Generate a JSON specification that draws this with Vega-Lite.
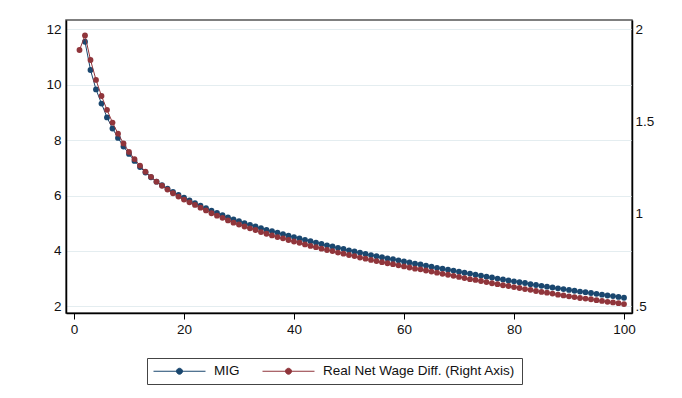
{
  "$schema": "https://vega.github.io/schema/vega-lite/v6.json",
  "width": 566,
  "height": 293,
  "autosize": {"type": "none"},
  "padding": {"left": 66, "top": 20, "right": 50, "bottom": 85},
  "background": "white",
  "config": {
    "font": "Liberation Sans",
    "view": {"stroke": "#555555", "strokeWidth": 1.5},
    "axis": {
      "labelFont": "Liberation Sans",
      "labelFontSize": 13.5,
      "labelColor": "#111111",
      "title": null,
      "domainColor": "#000000",
      "domainWidth": 1.5,
      "tickColor": "#000000",
      "gridColor": "#e4edf0",
      "gridWidth": 1
    }
  },
  "datasets": {
    "mig": [
      {"x": 2, "mig": 11.55}, {"x": 3, "mig": 10.53}, {"x": 4, "mig": 9.83}, {"x": 5, "mig": 9.32}, {"x": 6, "mig": 8.82},
      {"x": 7, "mig": 8.42}, {"x": 8, "mig": 8.08}, {"x": 9, "mig": 7.77}, {"x": 10, "mig": 7.50}, {"x": 11, "mig": 7.25},
      {"x": 12, "mig": 7.03}, {"x": 13, "mig": 6.83}, {"x": 14, "mig": 6.66}, {"x": 15, "mig": 6.50}, {"x": 16, "mig": 6.37},
      {"x": 17, "mig": 6.25}, {"x": 18, "mig": 6.13}, {"x": 19, "mig": 6.02}, {"x": 20, "mig": 5.92}, {"x": 21, "mig": 5.82},
      {"x": 22, "mig": 5.72}, {"x": 23, "mig": 5.63}, {"x": 24, "mig": 5.54}, {"x": 25, "mig": 5.45}, {"x": 26, "mig": 5.37},
      {"x": 27, "mig": 5.29}, {"x": 28, "mig": 5.21}, {"x": 29, "mig": 5.14}, {"x": 30, "mig": 5.07}, {"x": 31, "mig": 5.00},
      {"x": 32, "mig": 4.94}, {"x": 33, "mig": 4.88}, {"x": 34, "mig": 4.82}, {"x": 35, "mig": 4.76}, {"x": 36, "mig": 4.71},
      {"x": 37, "mig": 4.66}, {"x": 38, "mig": 4.60}, {"x": 39, "mig": 4.55}, {"x": 40, "mig": 4.50}, {"x": 41, "mig": 4.45},
      {"x": 42, "mig": 4.40}, {"x": 43, "mig": 4.35}, {"x": 44, "mig": 4.30}, {"x": 45, "mig": 4.25}, {"x": 46, "mig": 4.20},
      {"x": 47, "mig": 4.16}, {"x": 48, "mig": 4.11}, {"x": 49, "mig": 4.07}, {"x": 50, "mig": 4.02}, {"x": 51, "mig": 3.98},
      {"x": 52, "mig": 3.94}, {"x": 53, "mig": 3.89}, {"x": 54, "mig": 3.85}, {"x": 55, "mig": 3.81}, {"x": 56, "mig": 3.77},
      {"x": 57, "mig": 3.73}, {"x": 58, "mig": 3.70}, {"x": 59, "mig": 3.66}, {"x": 60, "mig": 3.62}, {"x": 61, "mig": 3.58},
      {"x": 62, "mig": 3.54}, {"x": 63, "mig": 3.51}, {"x": 64, "mig": 3.47}, {"x": 65, "mig": 3.43}, {"x": 66, "mig": 3.39},
      {"x": 67, "mig": 3.36}, {"x": 68, "mig": 3.32}, {"x": 69, "mig": 3.29}, {"x": 70, "mig": 3.25}, {"x": 71, "mig": 3.21},
      {"x": 72, "mig": 3.18}, {"x": 73, "mig": 3.14}, {"x": 74, "mig": 3.11}, {"x": 75, "mig": 3.07}, {"x": 76, "mig": 3.04},
      {"x": 77, "mig": 3.00}, {"x": 78, "mig": 2.97}, {"x": 79, "mig": 2.93}, {"x": 80, "mig": 2.90}, {"x": 81, "mig": 2.87},
      {"x": 82, "mig": 2.84}, {"x": 83, "mig": 2.80}, {"x": 84, "mig": 2.77}, {"x": 85, "mig": 2.74}, {"x": 86, "mig": 2.71},
      {"x": 87, "mig": 2.68}, {"x": 88, "mig": 2.65}, {"x": 89, "mig": 2.62}, {"x": 90, "mig": 2.59}, {"x": 91, "mig": 2.56},
      {"x": 92, "mig": 2.53}, {"x": 93, "mig": 2.51}, {"x": 94, "mig": 2.48}, {"x": 95, "mig": 2.45}, {"x": 96, "mig": 2.42},
      {"x": 97, "mig": 2.39}, {"x": 98, "mig": 2.37}, {"x": 99, "mig": 2.34}, {"x": 100, "mig": 2.31}
    ],
    "wage": [
      {"x": 1, "wage": 1.888}, {"x": 2, "wage": 1.967}, {"x": 3, "wage": 1.834}, {"x": 4, "wage": 1.726}, {"x": 5, "wage": 1.639},
      {"x": 6, "wage": 1.564}, {"x": 7, "wage": 1.495}, {"x": 8, "wage": 1.435}, {"x": 9, "wage": 1.382}, {"x": 10, "wage": 1.336},
      {"x": 11, "wage": 1.297}, {"x": 12, "wage": 1.262}, {"x": 13, "wage": 1.229}, {"x": 14, "wage": 1.201}, {"x": 15, "wage": 1.175},
      {"x": 16, "wage": 1.153}, {"x": 17, "wage": 1.132}, {"x": 18, "wage": 1.112}, {"x": 19, "wage": 1.094}, {"x": 20, "wage": 1.078},
      {"x": 21, "wage": 1.063}, {"x": 22, "wage": 1.049}, {"x": 23, "wage": 1.034}, {"x": 24, "wage": 1.019}, {"x": 25, "wage": 1.004},
      {"x": 26, "wage": 0.991}, {"x": 27, "wage": 0.979}, {"x": 28, "wage": 0.965}, {"x": 29, "wage": 0.953}, {"x": 30, "wage": 0.943},
      {"x": 31, "wage": 0.932}, {"x": 32, "wage": 0.922}, {"x": 33, "wage": 0.913}, {"x": 34, "wage": 0.902}, {"x": 35, "wage": 0.893},
      {"x": 36, "wage": 0.884}, {"x": 37, "wage": 0.875}, {"x": 38, "wage": 0.868}, {"x": 39, "wage": 0.859}, {"x": 40, "wage": 0.851},
      {"x": 41, "wage": 0.844}, {"x": 42, "wage": 0.835}, {"x": 43, "wage": 0.827}, {"x": 44, "wage": 0.820}, {"x": 45, "wage": 0.812},
      {"x": 46, "wage": 0.805}, {"x": 47, "wage": 0.799}, {"x": 48, "wage": 0.791}, {"x": 49, "wage": 0.785}, {"x": 50, "wage": 0.778},
      {"x": 51, "wage": 0.772}, {"x": 52, "wage": 0.764}, {"x": 53, "wage": 0.758}, {"x": 54, "wage": 0.751}, {"x": 55, "wage": 0.745},
      {"x": 56, "wage": 0.739}, {"x": 57, "wage": 0.733}, {"x": 58, "wage": 0.728}, {"x": 59, "wage": 0.722}, {"x": 60, "wage": 0.716},
      {"x": 61, "wage": 0.710}, {"x": 62, "wage": 0.704}, {"x": 63, "wage": 0.700}, {"x": 64, "wage": 0.694}, {"x": 65, "wage": 0.688},
      {"x": 66, "wage": 0.682}, {"x": 67, "wage": 0.676}, {"x": 68, "wage": 0.671}, {"x": 69, "wage": 0.665}, {"x": 70, "wage": 0.659},
      {"x": 71, "wage": 0.653}, {"x": 72, "wage": 0.647}, {"x": 73, "wage": 0.643}, {"x": 74, "wage": 0.637}, {"x": 75, "wage": 0.631},
      {"x": 76, "wage": 0.625}, {"x": 77, "wage": 0.620}, {"x": 78, "wage": 0.614}, {"x": 79, "wage": 0.610}, {"x": 80, "wage": 0.604},
      {"x": 81, "wage": 0.599}, {"x": 82, "wage": 0.593}, {"x": 83, "wage": 0.589}, {"x": 84, "wage": 0.583}, {"x": 85, "wage": 0.578},
      {"x": 86, "wage": 0.574}, {"x": 87, "wage": 0.569}, {"x": 88, "wage": 0.563}, {"x": 89, "wage": 0.559}, {"x": 90, "wage": 0.554},
      {"x": 91, "wage": 0.550}, {"x": 92, "wage": 0.545}, {"x": 93, "wage": 0.542}, {"x": 94, "wage": 0.538}, {"x": 95, "wage": 0.533},
      {"x": 96, "wage": 0.529}, {"x": 97, "wage": 0.524}, {"x": 98, "wage": 0.521}, {"x": 99, "wage": 0.517}, {"x": 100, "wage": 0.512}
    ]
  },
  "layer": [
    {
      "data": {"name": "mig"},
      "mark": {"type": "line", "strokeWidth": 1, "point": {"filled": true, "size": 34, "opacity": 1}},
      "encoding": {
        "x": {
          "field": "x", "type": "quantitative",
          "scale": {"domain": [-1.455, 101.455], "nice": false, "zero": false},
          "axis": {"values": [0, 20, 40, 60, 80, 100], "tickSize": 6, "labelPadding": 3, "grid": false, "labelFlush": false}
        },
        "y": {
          "field": "mig", "type": "quantitative",
          "scale": {"domain": [1.758, 12.336], "nice": false, "zero": false},
          "axis": {"orient": "left", "values": [2, 4, 6, 8, 10, 12], "ticks": false, "labelPadding": 5, "grid": true, "labelFlush": false}
        },
        "color": {
          "datum": "MIG",
          "type": "nominal",
          "scale": {"domain": ["MIG", "Real Net Wage Diff. (Right Axis)"], "range": ["#1a476f", "#90353b"]},
          "legend": {
            "orient": "none",
            "legendX": 81,
            "legendY": 338,
            "direction": "horizontal",
            "title": null,
            "strokeColor": "#444444",
            "fillColor": "white",
            "padding": 6,
            "symbolType": "M-1,0L7,0M3.46,0A0.46,0.46,0,1,1,2.54,0A0.46,0.46,0,1,1,3.46,0Z",
            "symbolSize": 169,
            "symbolStrokeWidth": 1,
            "labelFont": "Liberation Sans",
            "labelFontSize": 13.5,
            "labelColor": "#111111",
            "labelOffset": 47,
            "columnPadding": 20,
            "labelLimit": 400,
            "encode": {"symbols": {"update": {"fill": {"scale": "color", "field": "value"}, "opacity": {"value": 1}}}}
          }
        }
      }
    },
    {
      "data": {"name": "wage"},
      "mark": {"type": "line", "strokeWidth": 1, "point": {"filled": true, "size": 34, "opacity": 1}},
      "encoding": {
        "x": {"field": "x", "type": "quantitative"},
        "y": {
          "field": "wage", "type": "quantitative",
          "scale": {"domain": [0.4637, 2.0504], "nice": false, "zero": false},
          "axis": {"orient": "right", "values": [0.5, 1, 1.5, 2], "format": "~g", "labelExpr": "datum.value == 0.5 ? '.5' : datum.label", "ticks": false, "labelPadding": 3, "grid": false, "labelFlush": false}
        },
        "color": {"datum": "Real Net Wage Diff. (Right Axis)", "type": "nominal"}
      }
    }
  ],
  "resolve": {"scale": {"y": "independent"}}
}
